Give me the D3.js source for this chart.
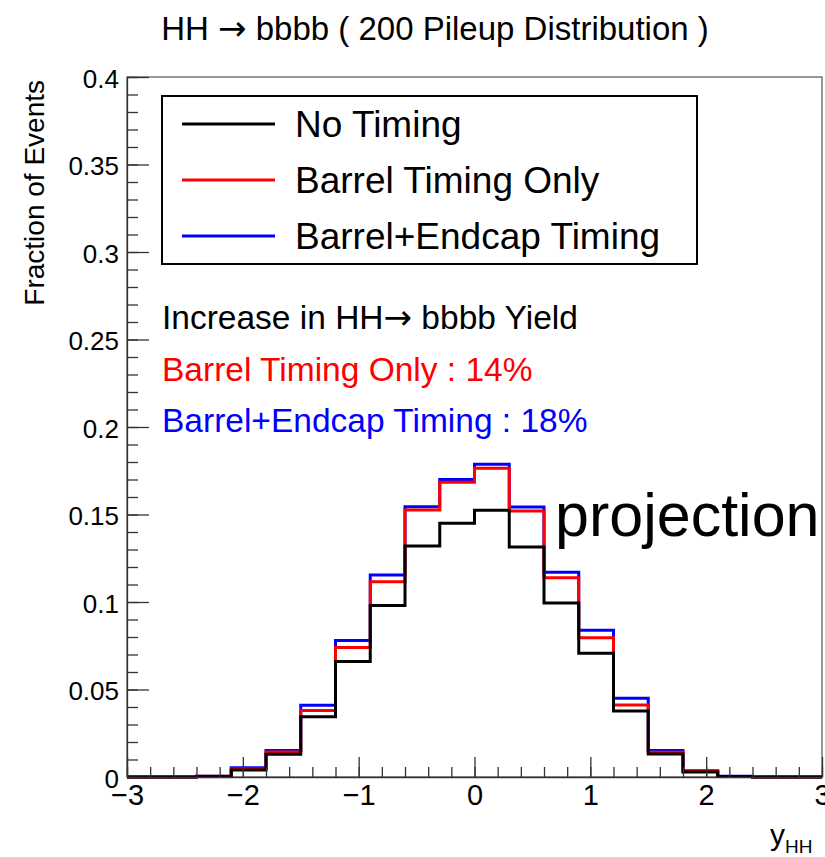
<!DOCTYPE html>
<html lang="en">
<head>
	<meta charset="UTF-8">
	<title>HH bbbb yHH</title>
	<style>
		body { margin: 0; background: #fff; }
		text { font-family: "Liberation Sans", Arial, sans-serif; }
	</style>
</head>
<body>
	<script src="https://d3js.org/d3.v7.min.js"></script>
	<script type="text/javascript">
		// bin edges: -3 .. 3 in steps of 0.3
		var binEdges = [-3, -2.7, -2.4, -2.1, -1.8, -1.5, -1.2, -0.9, -0.6, -0.3, 0, 0.3, 0.6, 0.9, 1.2, 1.5, 1.8, 2.1, 2.4, 2.7, 3];
		var noTiming = [0, 0, 0.0003, 0.004, 0.013, 0.0345, 0.066, 0.098, 0.132, 0.145, 0.1525, 0.1315, 0.0995, 0.0707, 0.0377, 0.0131, 0.0029, 0.0003, 0, 0];
		var barrelOnly = [0, 0, 0.0004, 0.0046, 0.0143, 0.038, 0.074, 0.1116, 0.1526, 0.1684, 0.1764, 0.152, 0.1139, 0.0796, 0.0411, 0.0141, 0.0032, 0.0003, 0, 0];
		var barrelEndcap = [0, 0, 0.0004, 0.0053, 0.0152, 0.041, 0.078, 0.1154, 0.1545, 0.170, 0.1787, 0.1543, 0.117, 0.0838, 0.045, 0.0152, 0.0036, 0.0004, 0, 0];
		var seriesNames = ["No Timing", "Barrel Timing Only", "Barrel+Endcap Timing"];
		var seriesColors = ["#000000", "#ff0000", "#0000ff"];
		var xMajorTicks = [-3, -2, -1, 0, 1, 2, 3];
		var yMajorTicks = [0, 0.05, 0.1, 0.15, 0.2, 0.25, 0.3, 0.35, 0.4];
		var yTickLabels = ["0", "0.05", "0.1", "0.15", "0.2", "0.25", "0.3", "0.35", "0.4"];
		var noteLines = ["Barrel Timing Only : 14%", "Barrel+Endcap Timing : 18%"];

		var W = 825, H = 857;
		var mLeft = 127, mRight = 822, mTop = 77, mBottom = 777;

		var svg = d3.select("body").append("svg").attr("width", W).attr("height", H);

		var x = d3.scaleLinear().domain([-3, 3]).range([mLeft, mRight]);
		var y = d3.scaleLinear().domain([0, 0.4]).range([mBottom, mTop]);

		// frame
		svg.append("rect").attr("x", mLeft).attr("y", mTop).attr("width", mRight - mLeft).attr("height", mBottom - mTop)
			.attr("fill", "none").attr("stroke", "#555").attr("stroke-width", 1.2);

		// histograms (blue first, black on top)
		function steps(vals) {
			var pts = [];
			vals.forEach(function(v, i) {
				pts.push([binEdges[i], v]);
				pts.push([binEdges[i + 1], v]);
			});
			return pts;
		}
		var line = d3.line().x(function(d){ return x(d[0]); }).y(function(d){ return y(d[1]); });
		var hists = [barrelEndcap, barrelOnly, noTiming];
		var histColors = [seriesColors[2], seriesColors[1], seriesColors[0]];
		hists.forEach(function(vals, i) {
			svg.append("path").attr("d", line(steps(vals)))
				.attr("fill", "none").attr("stroke", histColors[i]).attr("stroke-width", 3)
				.attr("stroke-linejoin", "miter");
		});

		// x axis
		var xMinor = d3.range(-3, 3.001, 0.2).map(function(v){ return +v.toFixed(2); });
		svg.append("g").attr("transform", "translate(0," + mBottom + ")")
			.call(d3.axisBottom(x).tickValues(xMinor).tickSize(-10).tickFormat(""))
			.call(function(g){ g.select(".domain").remove(); });
		var gx = svg.append("g").attr("transform", "translate(0," + mBottom + ")")
			.call(d3.axisBottom(x).tickValues(xMajorTicks).tickSize(-20).tickSizeOuter(0).tickPadding(7).tickFormat(d3.format("d")));
		gx.selectAll("text").attr("font-size", 29).attr("fill", "#000").attr("font-family", "Liberation Sans").attr("dy", "0.72em");
		gx.select(".domain").attr("stroke", "#333").attr("stroke-width", 1.3);

		// y axis
		var yMinor = d3.range(0, 0.4001, 0.01).map(function(v){ return +v.toFixed(3); });
		svg.append("g").attr("transform", "translate(" + mLeft + ",0)")
			.call(d3.axisLeft(y).tickValues(yMinor).tickSize(-11).tickFormat(""))
			.call(function(g){ g.select(".domain").remove(); });
		var gy = svg.append("g").attr("transform", "translate(" + mLeft + ",0)")
			.call(d3.axisLeft(y).tickValues(yMajorTicks).tickSize(-22).tickSizeOuter(0).tickPadding(8)
				.tickFormat(function(d, i){ return yTickLabels[i]; }));
		gy.selectAll("text").attr("font-size", 26).attr("fill", "#000").attr("font-family", "Liberation Sans").attr("dy", "0.4em");
		svg.selectAll(".tick line").attr("stroke", "#333").attr("stroke-width", 1.3);
		gy.select(".domain").attr("stroke", "#333").attr("stroke-width", 1.3);

		// title
		var tt = svg.append("text").attr("x", 435).attr("y", 40).attr("text-anchor", "middle").attr("font-size", 33);
		tt.append("tspan").text("HH ");
		tt.append("tspan").attr("font-family", "DejaVu Sans").attr("font-size", 34).text("\u2192");
		tt.append("tspan").text(" bbbb ( 200 Pileup Distribution )");

		// axis titles
		svg.append("text").attr("transform", "translate(44,80) rotate(-90)").attr("text-anchor", "end")
			.attr("font-size", 28).text("Fraction of Events");
		var xt = svg.append("text").attr("x", 770).attr("y", 845).attr("font-size", 30);
		xt.append("tspan").text("y");
		xt.append("tspan").attr("dy", 8).attr("font-size", 19).text("HH");

		// legend
		var lg = svg.append("g");
		lg.append("rect").attr("x", 162).attr("y", 96).attr("width", 535).attr("height", 168)
			.attr("fill", "#fff").attr("stroke", "#000").attr("stroke-width", 2);
		var legendY = [124, 180, 236];
		seriesNames.forEach(function(name, i) {
			lg.append("line").attr("x1", 182).attr("x2", 275).attr("y1", legendY[i]).attr("y2", legendY[i])
				.attr("stroke", seriesColors[i]).attr("stroke-width", 3);
			lg.append("text").attr("x", 295).attr("y", legendY[i] + 13).attr("font-size", 37).text(name);
		});

		// annotation
		var note = svg.append("text").attr("x", 162).attr("y", 329).attr("font-size", 33.5);
		note.append("tspan").text("Increase in HH");
		note.append("tspan").attr("font-family", "DejaVu Sans").attr("font-size", 34).text("\u2192");
		note.append("tspan").text(" bbbb Yield");
		var noteY = [381, 432];
		noteLines.forEach(function(t, i) {
			svg.append("text").attr("x", 162).attr("y", noteY[i]).attr("font-size", 33.5)
				.attr("fill", seriesColors[i + 1]).text(t);
		});

		svg.append("text").attr("x", 555).attr("y", 536).attr("font-size", 61)
			.attr("font-family", "Lato").text("projection");
	</script>
</body>
</html>
